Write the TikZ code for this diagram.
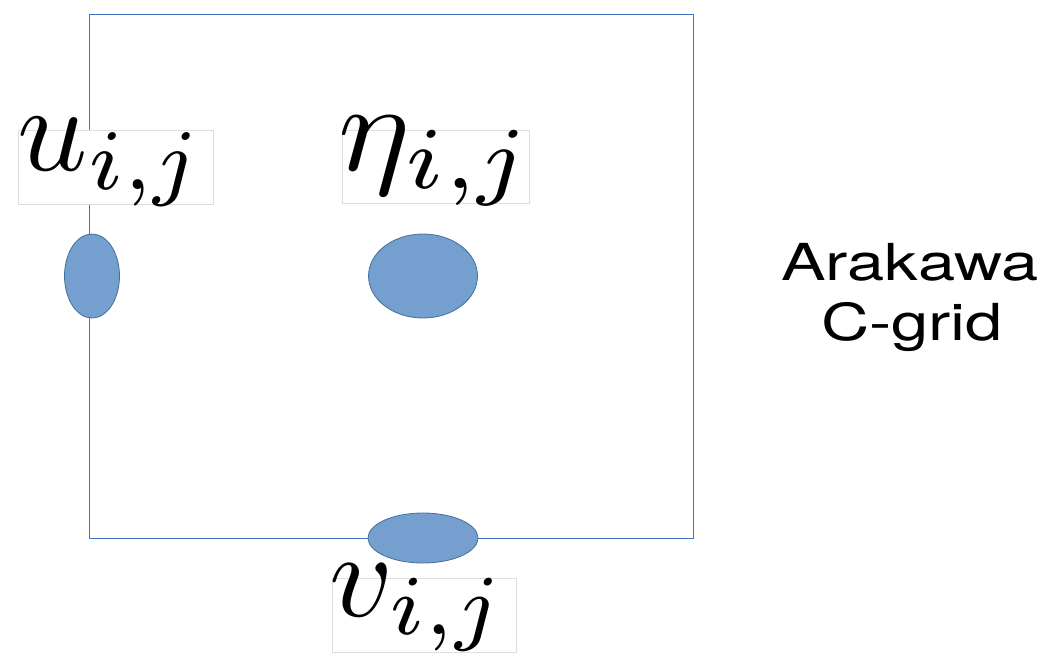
\documentclass[tikz,border=0pt]{standalone}
\usepackage{graphicx}
\usepackage{fontspec}
\newfontfamily\arakfont{TeX Gyre Heros}
\definecolor{gridline}{RGB}{68,114,196}
\definecolor{dotfill}{RGB}{116,159,206}
\definecolor{dotedge}{RGB}{65,113,156}
\definecolor{boxedge}{RGB}{222,222,222}
\tikzset{
  cell/.style={draw=gridline, line width=0.9pt},
  dot/.style={ellipse, draw=dotedge, line width=0.8pt, fill=dotfill, inner sep=0pt},
  lab/.style={draw=boxedge, fill=white, line width=0.6pt, inner sep=0pt},
  title/.style={font=\arakfont\fontsize{51}{60}\selectfont, inner sep=0pt, anchor=base}
}
\usetikzlibrary{shapes.geometric}
\begin{document}
\begin{tikzpicture}[x=1pt,y=-1pt]
\useasboundingbox (0,0) rectangle (1052,667);
\coordinate (tl) at (89,14);
\coordinate (br) at (693,538);
\draw[cell] (tl) rectangle (br);
\node[lab, minimum width=195pt, minimum height=74pt] (ulab) at (115.5,167) {};
\node[inner sep=0pt] (utext) at (111,162) {\resizebox*{186pt}{88pt}{$u_{i,j}$}};
\node[lab, minimum width=187pt, minimum height=73pt] (etalab) at (435.5,166.5) {};
\node[inner sep=0pt] (etatext) at (436,161) {\resizebox*{194pt}{90pt}{$\eta_{i,j}$}};
\node[lab, minimum width=184pt, minimum height=74pt] (vlab) at (424,615) {};
\node[inner sep=0pt] (vtext) at (418,608) {\resizebox*{176pt}{87pt}{$v_{i,j}$}};
\node[dot, minimum width=55pt, minimum height=84pt] (u) at (92,276) {};
\node[dot, minimum width=109pt, minimum height=84pt] (eta) at (423,276) {};
\node[dot, minimum width=110pt, minimum height=50pt] (v) at (423,538) {};
\node[title] (t1) at (910,280) {\scalebox{1.31}[1]{Arakawa}};
\node[title] (t2) at (912,340) {\scalebox{1.31}[1]{C-grid}};
\end{tikzpicture}
\end{document}
